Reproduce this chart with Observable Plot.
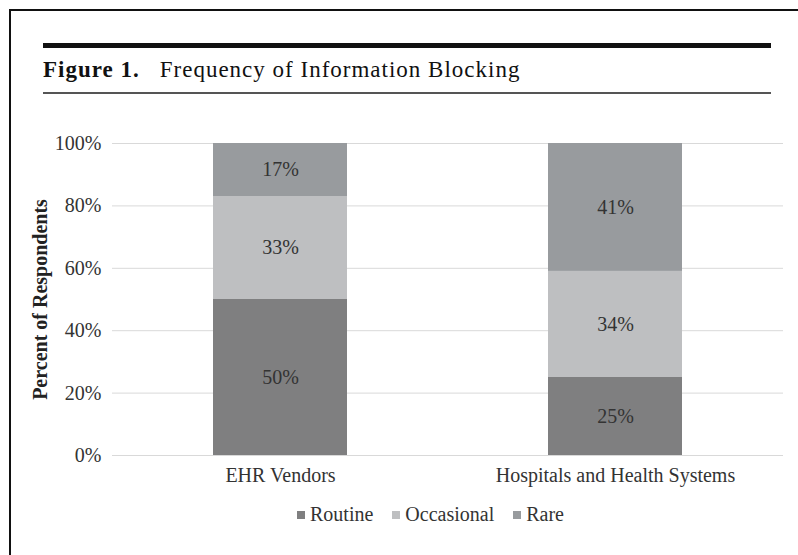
<!DOCTYPE html>
<html>
<head>
<meta charset="utf-8">
<script src="https://cdn.jsdelivr.net/npm/d3@7"></script>
<script src="https://cdn.jsdelivr.net/npm/@observablehq/plot@0.6"></script>
<style>
html, body { margin: 0; padding: 0; background: #fff; }
#root { position: relative; width: 798px; height: 555px; overflow: hidden; font-family: "Liberation Serif", "Times New Roman", serif; background: #fff; }
#frame { position: absolute; z-index: 5; left: 9px; top: 9px; width: 900px; height: 700px; border-left: 2px solid #111; border-top: 2px solid #111; pointer-events: none; }
#rule1 { position: absolute; left: 43px; top: 43px; width: 728px; height: 5px; background: #111; }
#title { position: absolute; left: 43px; top: 58px; font-size: 23px; line-height: 23px; color: #111; white-space: nowrap; letter-spacing: 1px; }
#title b { margin-right: 20px; }
#rule2 { position: absolute; left: 43px; top: 92px; width: 728px; height: 2px; background: #555; }
#chart { position: absolute; left: 0; top: 120px; }
#legend { position: absolute; left: 297px; top: 504px; font-size: 20px; line-height: 20px; color: #333; white-space: nowrap; font-family: "Liberation Serif", "Times New Roman", serif; }
#legend .sw { display: inline-block; width: 8px; height: 8px; margin-right: 5px; margin-bottom: 2px; vertical-align: baseline; }
#legend .item { margin-right: 19px; }
</style>
</head>
<body>
<div id="root">
  <div id="rule1"></div>
  <div id="title"><b>Figure 1.</b>Frequency of Information Blocking</div>
  <div id="rule2"></div>
  <div id="chart"></div>
  <div id="legend"></div>
  <div id="frame"></div>
</div>
<script>
const categories = ["EHR Vendors", "Hospitals and Health Systems"];
const levels = ["Routine", "Occasional", "Rare"];
const routine = [50, 25];
const occasional = [33, 34];
const rare = [17, 41];
const colors = ["#7f7f80", "#bebfc1", "#989b9e"];
const yTicks = [0, 20, 40, 60, 80, 100];
const yLabel = "Percent of Respondents";

const series = [routine, occasional, rare];
const data = [];
categories.forEach((c, i) => levels.forEach((l, j) => data.push({category: c, level: l, value: series[j][i]})));

const chart = Plot.plot({
  width: 798,
  height: 375,
  marginTop: 23,
  marginBottom: 40,
  marginLeft: 112,
  marginRight: 15,
  style: {fontFamily: "'Liberation Serif', 'Times New Roman', serif", fontSize: "20px", color: "#333", background: "transparent", overflow: "visible"},
  x: {domain: categories, paddingInner: 0.6, paddingOuter: 0.3, label: null},
  y: {domain: [0, 100], label: null},
  color: {domain: levels, range: colors},
  marks: [
    Plot.ruleY(yTicks, {stroke: "#d9d9d9", strokeWidth: 1}),
    Plot.barY(data, Plot.stackY({x: "category", y: "value", fill: "level", order: levels})),
    Plot.text(data, Plot.stackY({x: "category", y: "value", z: "level", order: levels, text: d => d.value + "%", fill: "#333", fontSize: 20})),
    Plot.axisY({ticks: yTicks, tickFormat: d => d + "%", tickSize: 0, tickPadding: 11, fontSize: 20, label: null}),
    Plot.axisX({tickSize: 0, tickPadding: 12, fontSize: 20, label: null}),
    Plot.text([yLabel], {frameAnchor: "left", dx: -72, rotate: -90, textAnchor: "middle", lineAnchor: "middle", fontWeight: "bold", fontSize: 20, fill: "#222"})
  ]
});
document.getElementById("chart").appendChild(chart);

const legend = document.getElementById("legend");
levels.forEach((l, i) => {
  const item = document.createElement("span");
  item.className = "item";
  const sw = document.createElement("span");
  sw.className = "sw";
  sw.style.background = colors[i];
  item.appendChild(sw);
  item.appendChild(document.createTextNode(l));
  legend.appendChild(item);
});
</script>
</body>
</html>
